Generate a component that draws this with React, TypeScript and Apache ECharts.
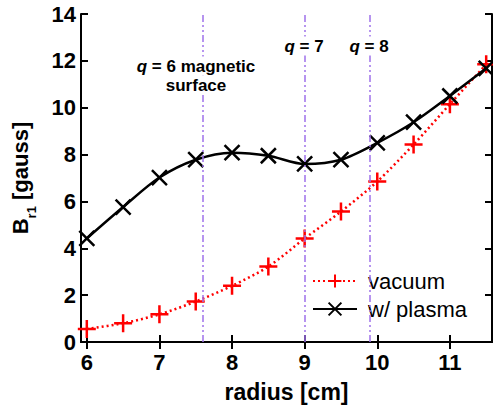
import React, { useEffect, useRef } from "react";
import * as echarts from "echarts";

const radius = [6, 6.5, 7, 7.5, 8, 8.5, 9, 9.5, 10, 10.5, 11, 11.5];
const vacuum = [0.56, 0.8, 1.18, 1.73, 2.4, 3.22, 4.42, 5.57, 6.85, 8.43, 10.15, 11.85];
const plasma = [4.42, 5.76, 7.02, 7.78, 8.08, 7.95, 7.6, 7.78, 8.5, 9.38, 10.5, 11.68];
const qSurfaces = [7.6, 9.0, 9.9];
const xTicks = [6, 7, 8, 9, 10, 11];
const FONT = "Liberation Sans, Arial, sans-serif";

export default function App() {
  const ref = useRef<HTMLDivElement>(null);
  useEffect(() => {
    if (!ref.current) return;
    const chart = echarts.init(ref.current, null, { renderer: "svg" });
    const plusPath = "path://M0,-10L0,10M-10,0L10,0";
    const crossPath = "path://M-10,-10L10,10M-10,10L10,-10";
    const tickCommon = { inside: true, length: 7, lineStyle: { color: "#000", width: 2 } };
    const labelFont = { fontFamily: FONT, fontWeight: "bold" as const, fontSize: 22, color: "#000" };
    const annFont = { fontFamily: FONT, fontWeight: "bold" as const, fontSize: 17, fill: "#000" };
    const annText = (text: string, x: number, y: number, italicQ: boolean) => ({
      type: "text",
      x,
      y,
      z: 10,
      style: {
        text: italicQ ? `{i|q}{n|${text}}` : `{n|${text}}`,
        align: "center",
        verticalAlign: "middle",
        backgroundColor: "#fff",
        padding: [1, 1, 1, 1],
        rich: { i: { ...annFont, fontStyle: "italic" }, n: { ...annFont } },
      },
    });
    chart.setOption({
      animation: false,
      backgroundColor: "#fff",
      grid: { left: 81, right: 1, top: 14, bottom: 67, containLabel: false },
      xAxis: [
        {
          type: "value",
          min: 5.92,
          max: 11.58,
          axisLine: { lineStyle: { color: "#000", width: 2 } },
          axisTick: { ...tickCommon, customValues: xTicks },
          axisLabel: { ...labelFont, margin: 9, customValues: xTicks },
          splitLine: { show: false },
          name: "radius [cm]",
          nameLocation: "middle",
          nameGap: 38,
          nameTextStyle: { fontFamily: FONT, fontWeight: "bold", fontSize: 23, color: "#000" },
        },
        {
          type: "value",
          position: "top",
          min: 5.92,
          max: 11.58,
          axisLine: { show: true, lineStyle: { color: "#000", width: 2 } },
          axisTick: { ...tickCommon, customValues: xTicks },
          axisLabel: { show: false },
          splitLine: { show: false },
        },
      ],
      yAxis: [
        {
          type: "value",
          min: 0,
          max: 14,
          interval: 2,
          axisLine: { show: true, lineStyle: { color: "#000", width: 2 } },
          axisTick: { show: true, ...tickCommon },
          axisLabel: { ...labelFont, margin: 5 },
          splitLine: { show: false },
          name: "{b|B}{s|r1}{b| [gauss]}",
          nameLocation: "middle",
          nameGap: 50,
          nameTextStyle: {
            rich: {
              b: { fontFamily: FONT, fontWeight: "bold", fontSize: 22, color: "#000" },
              s: { fontFamily: FONT, fontWeight: "bold", fontSize: 13, color: "#000", verticalAlign: "bottom", padding: [0, 0, -7, 0] },
            },
          },
        },
        {
          type: "value",
          position: "right",
          min: 0,
          max: 14,
          interval: 2,
          axisLine: { show: true, lineStyle: { color: "#000", width: 2 } },
          axisTick: { show: true, ...tickCommon },
          axisLabel: { show: false },
          splitLine: { show: false },
        },
      ],
      legend: {
        left: 308,
        top: 266,
        orient: "vertical",
        backgroundColor: "#fff",
        padding: [4, 8, 4, 4],
        itemGap: 6,
        itemWidth: 44,
        itemHeight: 16,
        textStyle: { fontFamily: FONT, fontSize: 22, color: "#000", padding: [0, 0, 0, 6] },
        data: ["vacuum", "w/ plasma"],
      },
      series: [
        {
          name: "vacuum",
          type: "line",
          data: radius.map((r, i) => [r, vacuum[i]]),
          smooth: 0.3,
          symbol: plusPath,
          symbolSize: 18,
          lineStyle: { color: "#ff0000", width: 2.5, type: [2, 3] },
          itemStyle: { color: "#ff0000", borderColor: "#ff0000", borderWidth: 2.5 },
          z: 3,
        },
        {
          name: "w/ plasma",
          type: "line",
          data: radius.map((r, i) => [r, plasma[i]]),
          smooth: 0.3,
          symbol: crossPath,
          symbolSize: 15,
          lineStyle: { color: "#000", width: 2.5 },
          itemStyle: { color: "#000", borderColor: "#000", borderWidth: 2.5 },
          z: 4,
          markLine: {
            silent: true,
            symbol: "none",
            label: { show: false },
            lineStyle: { color: "#9f72ea", width: 1.5, type: [7, 3, 2, 3, 2, 3] },
            data: qSurfaces.map((q) => ({ xAxis: q })),
          },
        },
      ],
      graphic: [
        annText(" = 6 magnetic", 196, 66, true),
        annText("surface", 196, 85, false),
        annText(" = 7", 304, 46, true),
        annText(" = 8", 369, 46, true),
      ],
    });
    return () => chart.dispose();
  }, []);
  return <div ref={ref} style={{ width: 493, height: 409, position: "absolute", left: 0, top: 0 }} />;
}
